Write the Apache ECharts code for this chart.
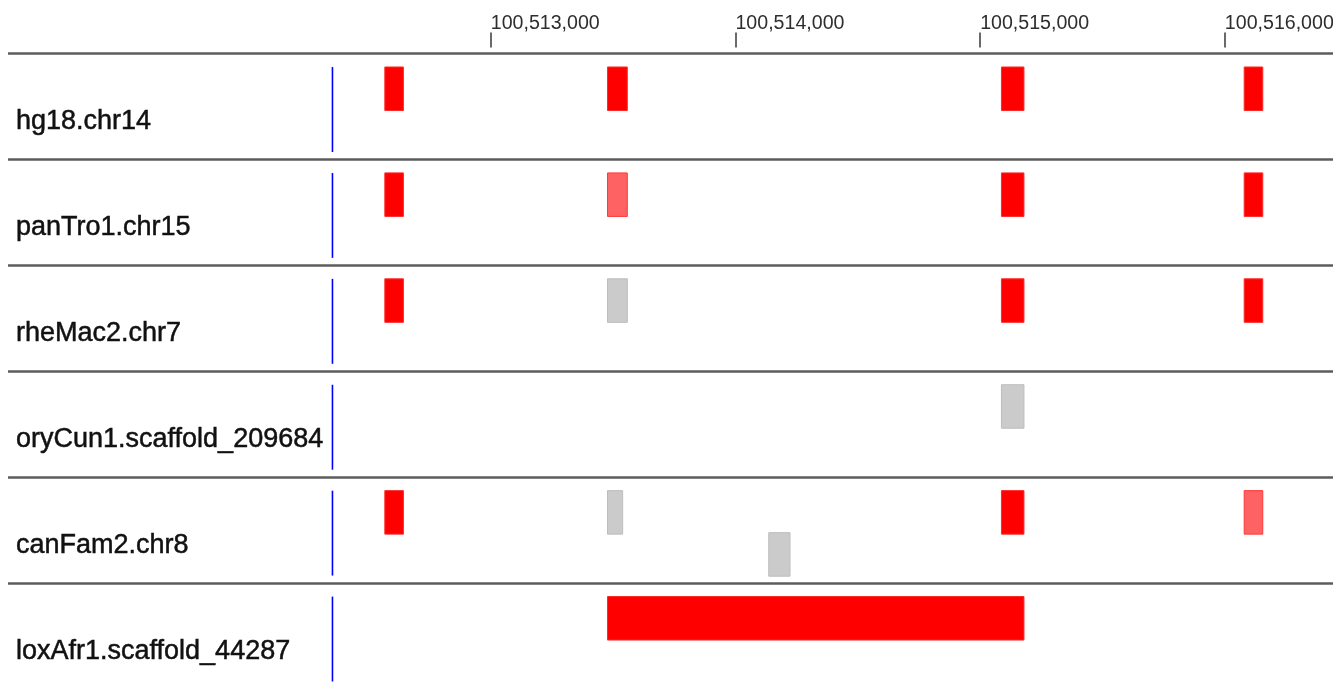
<!DOCTYPE html>
<html>
<head>
<meta charset="utf-8">
<script src="https://cdn.jsdelivr.net/npm/echarts@6/dist/echarts.min.js"></script>
<style>
html,body{margin:0;padding:0;background:#fff;width:100%;height:100%;overflow:hidden;}
#chart{width:100vw;height:100vh;}
</style>
</head>
<body>
<div id="chart"></div>
<script>
// ---- data ----
const rowNames = ['hg18.chr14', 'panTro1.chr15', 'rheMac2.chr7', 'oryCun1.scaffold_209684', 'canFam2.chr8', 'loxAfr1.scaffold_44287'];
const tickValues = [100513000, 100514000, 100515000, 100516000];
const trackStart = 100512353;

// alignment blocks: row index, start, end, lane, kind
const blockRow   = [0, 0, 0, 0,
                    1, 1, 1, 1,
                    2, 2, 2, 2,
                    3,
                    4, 4, 4, 4, 4,
                    5];
const blockStart = [100512567, 100513477, 100515087, 100516079,
                    100512567, 100513477, 100515087, 100516079,
                    100512567, 100513477, 100515087, 100516079,
                    100515087,
                    100512567, 100513477, 100515087, 100516079, 100514136,
                    100513477];
const blockEnd   = [100512643, 100513558, 100515179, 100516155,
                    100512643, 100513558, 100515179, 100516155,
                    100512643, 100513558, 100515179, 100516155,
                    100515179,
                    100512643, 100513539, 100515179, 100516155, 100514223,
                    100515179];
const blockLane  = [0, 0, 0, 0,
                    0, 0, 0, 0,
                    0, 0, 0, 0,
                    0,
                    0, 0, 0, 0, 1,
                    0];
const blockKind  = ['aligned', 'aligned', 'aligned', 'aligned',
                    'aligned', 'partial', 'aligned', 'aligned',
                    'aligned', 'missing', 'aligned', 'aligned',
                    'missing',
                    'aligned', 'missing', 'aligned', 'partial', 'missing',
                    'aligned'];

// ---- styles ----
const kindStyle = {
  aligned: { fill: '#ff0000', stroke: '#ff2a2a' },
  partial: { fill: '#ff6262', stroke: '#ff3a3a' },
  missing: { fill: '#cbcbcb', stroke: '#bdbdbd' }
};
const FONT = "'Liberation Sans', Arial, sans-serif";

const blockData = blockRow.map((r, i) => [blockStart[i], blockEnd[i], r, blockLane[i]]);
const startData = rowNames.map((_, i) => [trackStart, i]);

const chart = echarts.init(document.getElementById('chart'), null, { renderer: 'canvas' });

function fmt(v) { return String(v).replace(/\B(?=(\d{3})+(?!\d))/g, ','); }

chart.setOption({
  animation: false,
  backgroundColor: '#ffffff',
  grid: { left: '0.6%', right: 0, top: '7.82%', height: '92.9%', containLabel: false, outerBoundsMode: 'none' },
  xAxis: {
    type: 'value',
    position: 'top',
    min: 100511027,
    max: 100516442,
    offset: 6,
    axisLine: { show: false },
    splitLine: { show: false },
    axisTick: {
      show: true,
      customValues: tickValues,
      length: 15,
      lineStyle: { color: '#3a3a3a', width: 1.5 }
    },
    axisLabel: {
      show: true,
      customValues: tickValues,
      formatter: fmt,
      align: 'left',
      verticalAlign: 'bottom',
      lineHeight: 20,
      margin: 14,
      fontSize: 19.6,
      fontFamily: FONT,
      color: '#2e2e2e'
    }
  },
  yAxis: {
    type: 'category',
    data: rowNames,
    inverse: true,
    boundaryGap: true,
    axisLine: { show: false },
    axisTick: { show: false },
    splitLine: { show: true, interval: 0, lineStyle: { color: '#5c5c5c', width: 2.6 } },
    axisLabel: {
      inside: true,
      interval: 0,
      margin: 8,
      align: 'left',
      verticalAlign: 'top',
      lineHeight: 31,
      fontSize: 27,
      fontFamily: FONT,
      color: '#111111',
      textBorderColor: '#111111',
      textBorderWidth: 0.5
    }
  },
  series: [
    {
      type: 'custom',
      name: 'trackStart',
      silent: true,
      data: startData,
      encode: { x: 0, y: 1 },
      renderItem: function (params, api) {
        const c = api.coord([api.value(0), api.value(1)]);
        const h = api.size([0, 1])[1];
        const top = c[1] - h / 2;
        return {
          type: 'line',
          shape: { x1: c[0], y1: top + h * 0.128, x2: c[0], y2: top + h * 0.93 },
          style: { stroke: '#0000ff', lineWidth: 1.6 }
        };
      }
    },
    {
      type: 'custom',
      name: 'blocks',
      silent: true,
      data: blockData,
      encode: { x: [0, 1], y: 2 },
      renderItem: function (params, api) {
        const s = api.coord([api.value(0), api.value(2)]);
        const e = api.coord([api.value(1), api.value(2)]);
        const h = api.size([0, 1])[1];
        const top = s[1] - h / 2;
        const lane = api.value(3);
        const y = top + h * (0.1275 + lane * 0.397);
        const st = kindStyle[blockKind[params.dataIndex]];
        return {
          type: 'rect',
          shape: { x: s[0], y: y, width: e[0] - s[0], height: h * 0.411 },
          style: { fill: st.fill, stroke: st.stroke, lineWidth: 1 }
        };
      }
    }
  ]
});
window.addEventListener('resize', () => chart.resize());
</script>
</body>
</html>
